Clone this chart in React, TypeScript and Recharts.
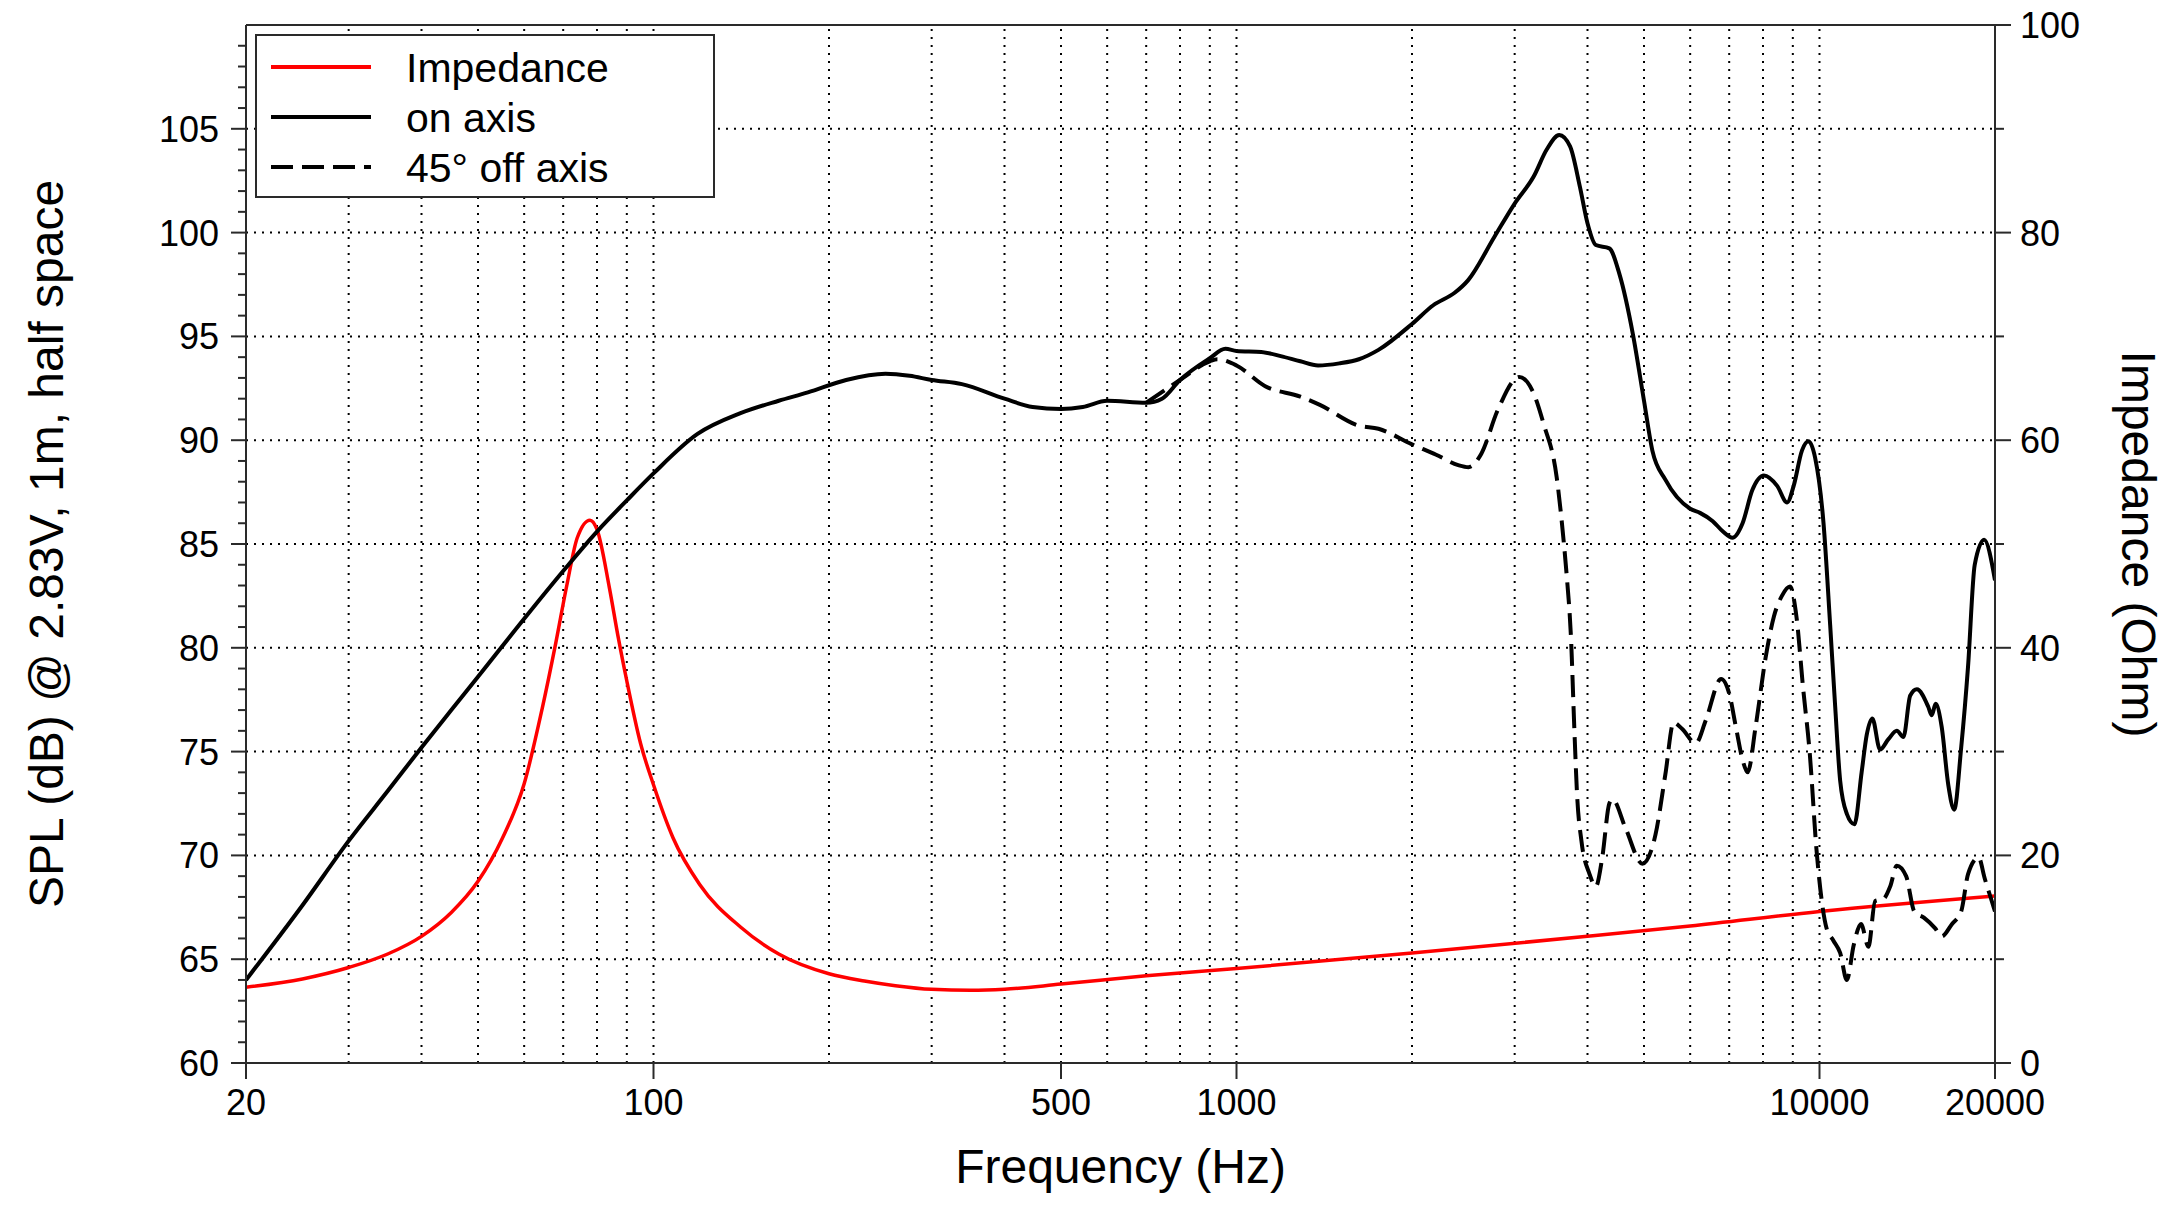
import { Legend, Line, LineChart, ReferenceLine, XAxis, YAxis } from "recharts";

const FONT = "'Liberation Sans', Arial, Helvetica, sans-serif";
const INK = "#000";
const AXIS = "#2a2a2a";

// [frequency Hz, ohm]
const impedance: [number, number][] = [
  [20, 7.3], [25, 8.1], [30, 9.2], [35, 10.5], [40, 12.2], [45, 14.5], [50, 17.5], [55, 21.6],
  [60, 26.9], [64.4, 34.1], [68, 40.5], [71, 46.0], [74, 50.6], [77.8, 52.3], [80, 51.4],
  [84, 45.8], [87, 41.0], [90, 36.8], [95, 30.8], [100, 26.8], [108, 21.7], [120, 17.2],
  [141, 13.1], [164, 10.5], [200, 8.6], [230, 7.9], [260, 7.45], [300, 7.1], [350, 7.0],
  [400, 7.1], [500, 7.6], [700, 8.4], [1000, 9.1], [2000, 10.6], [4000, 12.2], [6000, 13.2],
  [10000, 14.6], [20000, 16.1],
];

// [frequency Hz, dB]
const onAxis: [number, number][] = [
  [20, 64.0], [25, 67.6], [30, 70.7], [35, 73.1], [40, 75.2], [45, 77.0], [50, 78.6], [60, 81.4],
  [70, 83.7], [80, 85.6], [90, 87.1], [100, 88.4], [119, 90.3], [141, 91.3], [164, 91.9],
  [184, 92.3], [214, 92.9], [250, 93.2], [275, 93.1], [300, 92.9], [338, 92.7], [400, 92.0],
  [447, 91.6], [500, 91.5], [545, 91.6], [600, 91.9], [700, 91.8], [745, 92.0], [800, 92.9],
  [900, 93.95], [957, 94.4], [1000, 94.3], [1103, 94.25], [1191, 94.05], [1287, 93.8],
  [1380, 93.6], [1501, 93.7], [1622, 93.9], [1752, 94.35], [2000, 95.6], [2175, 96.5],
  [2367, 97.1], [2495, 97.7], [2770, 99.8], [3000, 101.4], [3234, 102.7], [3405, 104.0],
  [3578, 104.7], [3734, 104.15], [3882, 102.2], [4000, 100.45], [4134, 99.4], [4360, 99.24],
  [4538, 98.0], [4786, 95.1], [5000, 91.9], [5168, 89.5], [5440, 88.1], [6000, 86.7],
  [6237, 86.5], [6560, 86.1], [6830, 85.6], [7093, 85.3], [7380, 86.0], [7670, 87.6],
  [8030, 88.3], [8460, 87.8], [8800, 87.0], [9030, 87.8], [9330, 89.5], [9570, 89.95],
  [9830, 89.15], [10160, 86.0], [10430, 81.1], [10640, 77.15], [10850, 73.6], [11140, 72.0],
  [11480, 71.5], [11810, 74.0], [12050, 75.8], [12320, 76.6], [12700, 75.1], [13130, 75.6],
  [13570, 76.0], [13930, 75.7], [14310, 77.7], [14690, 78.0], [15370, 77.15], [15580, 76.75],
  [15820, 77.3], [16200, 76.2], [16630, 73.4], [17020, 72.2], [17500, 75.2], [17980, 79.1],
  [18460, 84.0], [19160, 85.2], [20000, 83.25],
];

const offAxis: [number, number][] = [
  [700, 91.8], [800, 92.9], [900, 93.8], [927, 93.9], [1000, 93.6], [1120, 92.6],
  [1287, 92.1], [1390, 91.7], [1622, 90.7], [1752, 90.55], [2000, 89.8], [2200, 89.3],
  [2400, 88.8], [2500, 88.7], [2630, 89.35], [2806, 91.45], [3055, 93.05], [3234, 92.25],
  [3362, 90.8], [3542, 88.2], [3639, 85.2], [3683, 83.55], [3750, 80.3], [3795, 76.3],
  [3839, 72.9], [3905, 70.7], [4032, 69.1], [4134, 68.5], [4240, 69.9], [4360, 72.5],
  [4415, 72.7], [4650, 71.3], [4968, 69.6], [5232, 71.0], [5440, 73.9], [5620, 76.4],
  [5810, 76.1], [6135, 75.4], [6380, 76.5], [6780, 78.5], [7000, 77.8], [7186, 76.2],
  [7380, 74.6], [7530, 74.0], [7770, 76.2], [8080, 79.5], [8350, 81.5], [8620, 82.5],
  [8900, 82.95], [9130, 81.5], [9370, 78.1], [9630, 74.8], [9880, 70.3], [10080, 67.9],
  [10280, 66.5], [10560, 65.9], [10850, 65.3], [11140, 64.0], [11450, 65.7], [11780, 66.7],
  [12130, 65.6], [12460, 67.8], [12870, 67.9], [13220, 68.5], [13570, 69.5], [14080, 69.0],
  [14540, 67.3], [15100, 67.0], [15780, 66.5], [16200, 66.1], [16880, 66.7], [17500, 67.3],
  [17980, 69.1], [18750, 69.9], [19200, 68.9], [19900, 67.5], [20000, 67.3],
];

const freqTicks = [20, 100, 500, 1000, 10000, 20000];
const freqGrid = [30, 40, 50, 60, 70, 80, 90, 100, 200, 300, 400, 500, 600, 700, 800, 900,
  1000, 2000, 3000, 4000, 5000, 6000, 7000, 8000, 9000, 10000];
const splTicks = [60, 61, 62, 63, 64, 65, 66, 67, 68, 69, 70, 71, 72, 73, 74, 75, 76, 77, 78, 79,
  80, 81, 82, 83, 84, 85, 86, 87, 88, 89, 90, 91, 92, 93, 94, 95, 96, 97, 98, 99, 100, 101, 102,
  103, 104, 105, 106, 107, 108, 109];
const splGrid = [65, 70, 75, 80, 85, 90, 95, 100, 105];
const ohmTicks = [0, 10, 20, 30, 40, 50, 60, 70, 80, 90, 100];

const legendOrder = ["Impedance", "on axis", "45° off axis"];
const dashFor: Record<string, string | undefined> = { "45° off axis": "22 9" };

const toPoints = (rows: [number, number][]) => rows.map(([f, v]) => ({ f, v }));

function FreqTick({ x, y, payload }: any) {
  return (
    <g>
      <line x1={x} x2={x} y1={y} y2={y + 16} stroke={AXIS} strokeWidth={2} />
      <text x={x} y={y + 52} textAnchor="middle" fontFamily={FONT} fontSize={36} fill={INK}>{payload.value}</text>
    </g>
  );
}

function SplTick({ x, y, payload }: any) {
  const v = payload.value;
  const major = v % 5 === 0;
  return (
    <g>
      <line x1={x} x2={x - (major ? 15 : 8)} y1={y} y2={y} stroke={AXIS} strokeWidth={2} />
      {major && <text x={x - 27} y={y + 13} textAnchor="end" fontFamily={FONT} fontSize={36} fill={INK}>{v}</text>}
    </g>
  );
}

function OhmTick({ x, y, payload }: any) {
  const v = payload.value;
  const major = v % 20 === 0;
  return (
    <g>
      <line x1={x} x2={x + (major ? 16 : 9)} y1={y} y2={y} stroke={AXIS} strokeWidth={2} />
      {major && <text x={x + 25} y={y + 13} textAnchor="start" fontFamily={FONT} fontSize={36} fill={INK}>{v}</text>}
    </g>
  );
}

function SplTitle({ viewBox }: any) {
  const cx = viewBox.x + 63;
  const cy = viewBox.y + viewBox.height / 2;
  return (
    <text x={cx} y={cy} transform={`rotate(-90 ${cx} ${cy})`} textAnchor="middle" fontFamily={FONT} fontSize={48} fill={INK}>
      SPL (dB) @ 2.83V, 1m, half space
    </text>
  );
}

function OhmTitle({ viewBox }: any) {
  const cx = viewBox.x + 127;
  const cy = viewBox.y + viewBox.height / 2;
  return (
    <text x={cx} y={cy} transform={`rotate(90 ${cx} ${cy})`} textAnchor="middle" fontFamily={FONT} fontSize={48} fill={INK}>
      Impedance (Ohm)
    </text>
  );
}

function FreqTitle({ viewBox }: any) {
  return (
    <text x={viewBox.x + viewBox.width / 2} y={viewBox.y + 120} textAnchor="middle" fontFamily={FONT} fontSize={48} fill={INK}>
      Frequency (Hz)
    </text>
  );
}

function LegendBox({ payload }: any) {
  const items = legendOrder.map((name) => (payload || []).find((p: any) => p.value === name)).filter(Boolean);
  return (
    <svg width={460} height={164} style={{ display: "block" }}>
      <rect x={1} y={1} width={458} height={162} fill="#fff" stroke={AXIS} strokeWidth={2} />
      {items.map((item: any, i: number) => {
        const cy = 33 + i * 50;
        return (
          <g key={item.value}>
            <line x1={16} x2={116} y1={cy} y2={cy} stroke={item.color} strokeWidth={4} strokeDasharray={dashFor[item.value]} />
            <text x={151} y={cy + 15} fontFamily={FONT} fontSize={41} fill={INK}>{item.value}</text>
          </g>
        );
      })}
    </svg>
  );
}

export default function App() {
  return (
    <div style={{ position: "absolute", left: 0, top: 0, width: 2180, height: 1208, background: "#fff" }}>
      <LineChart width={2180} height={1208} margin={{ top: 25, right: 0, bottom: 0, left: 0 }}>
        <XAxis
          dataKey="f"
          type="number"
          scale="log"
          domain={[20, 20000]}
          allowDataOverflow
          ticks={freqTicks}
          interval={0}
          height={145}
          tickSize={0}
          tickMargin={0}
          tickLine={false}
          tick={<FreqTick />}
          axisLine={{ stroke: AXIS, strokeWidth: 2 }}
          label={<FreqTitle />}
        />
        <YAxis
          yAxisId="db"
          type="number"
          domain={[60, 110]}
          allowDataOverflow
          ticks={splTicks}
          interval={0}
          width={246}
          tickSize={0}
          tickMargin={0}
          tickLine={false}
          tick={<SplTick />}
          axisLine={{ stroke: AXIS, strokeWidth: 2 }}
          label={<SplTitle />}
        />
        <YAxis
          yAxisId="ohm"
          orientation="right"
          type="number"
          domain={[0, 100]}
          allowDataOverflow
          ticks={ohmTicks}
          interval={0}
          width={185}
          tickSize={0}
          tickMargin={0}
          tickLine={false}
          tick={<OhmTick />}
          axisLine={{ stroke: AXIS, strokeWidth: 2 }}
          label={<OhmTitle />}
        />
        {freqGrid.map((f) => (
          <ReferenceLine key={`fx${f}`} x={f} yAxisId="db" stroke={INK} strokeWidth={2} strokeDasharray="2 6" />
        ))}
        {splGrid.map((v) => (
          <ReferenceLine key={`gy${v}`} y={v} yAxisId="db" stroke={INK} strokeWidth={2} strokeDasharray="2 6" />
        ))}
        <ReferenceLine y={110} yAxisId="db" stroke={AXIS} strokeWidth={2} />
        <Line
          name="Impedance"
          data={toPoints(impedance)}
          dataKey="v"
          yAxisId="ohm"
          type="monotone"
          stroke="#ff0000"
          strokeWidth={3.5}
          dot={false}
          activeDot={false}
          isAnimationActive={false}
        />
        <Line
          name="45° off axis"
          data={toPoints(offAxis)}
          dataKey="v"
          yAxisId="db"
          type="monotone"
          stroke={INK}
          strokeWidth={4}
          strokeDasharray="22 9"
          dot={false}
          activeDot={false}
          isAnimationActive={false}
        />
        <Line
          name="on axis"
          data={toPoints(onAxis)}
          dataKey="v"
          yAxisId="db"
          type="monotone"
          stroke={INK}
          strokeWidth={4}
          dot={false}
          activeDot={false}
          isAnimationActive={false}
        />
        <Legend
          layout="horizontal"
          verticalAlign="middle"
          align="center"
          content={<LegendBox />}
          wrapperStyle={{ position: "absolute", left: 255, top: 34, width: 460, height: 164 }}
        />
      </LineChart>
    </div>
  );
}
